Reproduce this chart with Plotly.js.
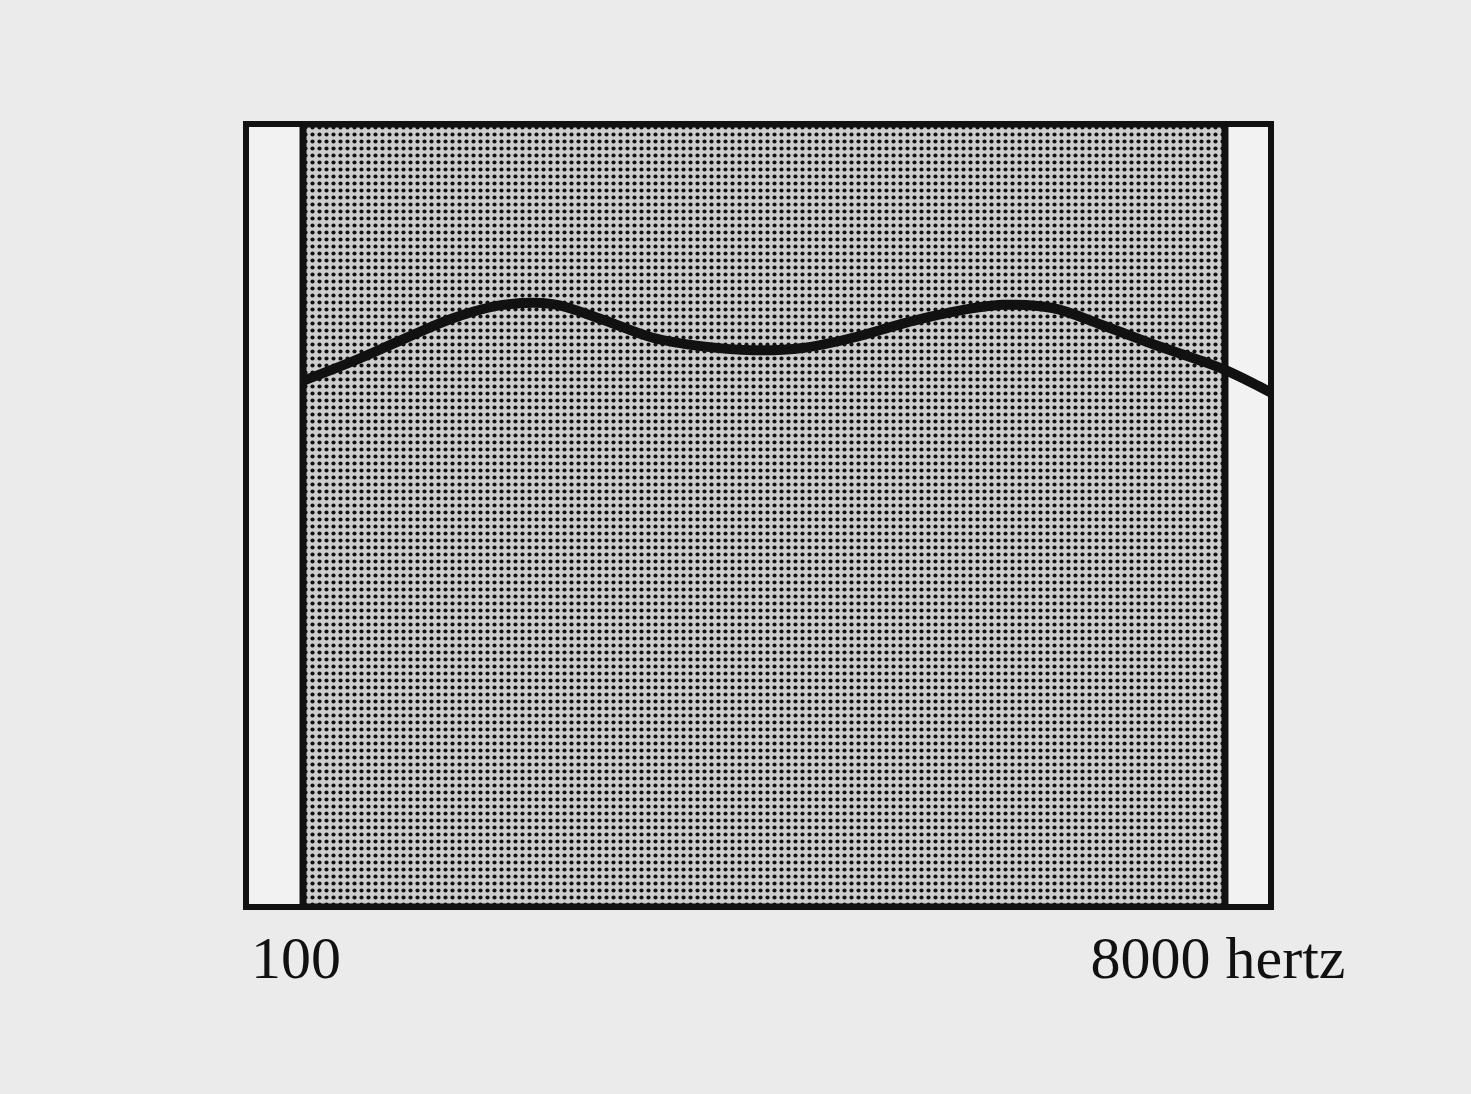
<!DOCTYPE html>
<html>
<head>
<meta charset="utf-8">
<script src="https://cdn.plot.ly/plotly-3.0.1.min.js"></script>
<style>
  html, body { margin: 0; padding: 0; background: #ebebeb; }
  #chart { width: 1471px; height: 1094px; }
</style>
</head>
<body>
<div id="chart"></div>
<script>
// Frequency response curve, relative level 0..100
const freqHz = [100, 126.8, 160.8, 203.9, 258.6, 327.9, 415.8, 527.3, 668.7, 848, 1075, 1364, 1729, 2193, 2781, 3527, 4472, 5671, 7192, 8000, 9138, 9954];
const level  = [67.2, 69.7, 72.5, 75.2, 76.9, 77.0, 75.0, 72.7, 71.6, 71.1, 71.4, 72.7, 74.5, 76.0, 76.9, 76.5, 74.3, 71.9, 69.7, 68.6, 66.9, 65.7];

// Shaded pass band limits
const bandLow = 100;
const bandHigh = 8000;
const levelMin = 0;
const levelMax = 100;

// Axis tick labels
const tickValues = [100, 8000];
const tickLabels = ["100", "8000 hertz"];

const band = {
  type: "scatter",
  mode: "lines",
  x: [bandLow, bandLow, bandHigh, bandHigh, bandLow],
  y: [levelMin, levelMax, levelMax, levelMin, levelMin],
  fill: "toself",
  fillcolor: "#c9c9c9",
  fillpattern: { shape: ".", bgcolor: "#cdcdcd", fgcolor: "#111111", size: 7, solidity: 0.28, fillmode: "replace" },
  line: { color: "#111111", width: 7 },
  hoverinfo: "skip",
  showlegend: false
};

const curve = {
  type: "scatter",
  mode: "lines",
  x: freqHz,
  y: level,
  line: { color: "#111111", width: 10, shape: "spline", smoothing: 1 },
  showlegend: false
};

const layout = {
  width: 1471,
  height: 1094,
  margin: { l: 246, r: 200, t: 124, b: 187 },
  paper_bgcolor: "#ebebeb",
  plot_bgcolor: "#f2f2f2",
  showlegend: false,
  xaxis: {
    type: "log",
    range: [1.8823, 3.9981],
    tickvals: tickValues,
    ticktext: tickLabels,
    ticks: "",
    showgrid: false,
    zeroline: false,
    showline: false,
    ticklabelshift: -7,
    ticklabelstandoff: 10,
    tickfont: { family: "Liberation Serif, Times New Roman, serif", size: 60, color: "#111111" }
  },
  yaxis: {
    range: [levelMin, levelMax],
    showgrid: false,
    zeroline: false,
    showline: false,
    showticklabels: false,
    ticks: ""
  },
  shapes: [
    { type: "rect", xref: "paper", yref: "paper", x0: 0, x1: 1, y0: 0, y1: 1,
      line: { color: "#111111", width: 6 }, fillcolor: "rgba(0,0,0,0)", layer: "above" }
  ]
};

Plotly.newPlot("chart", [band, curve], layout, { displayModeBar: false, staticPlot: true });
</script>
</body>
</html>
